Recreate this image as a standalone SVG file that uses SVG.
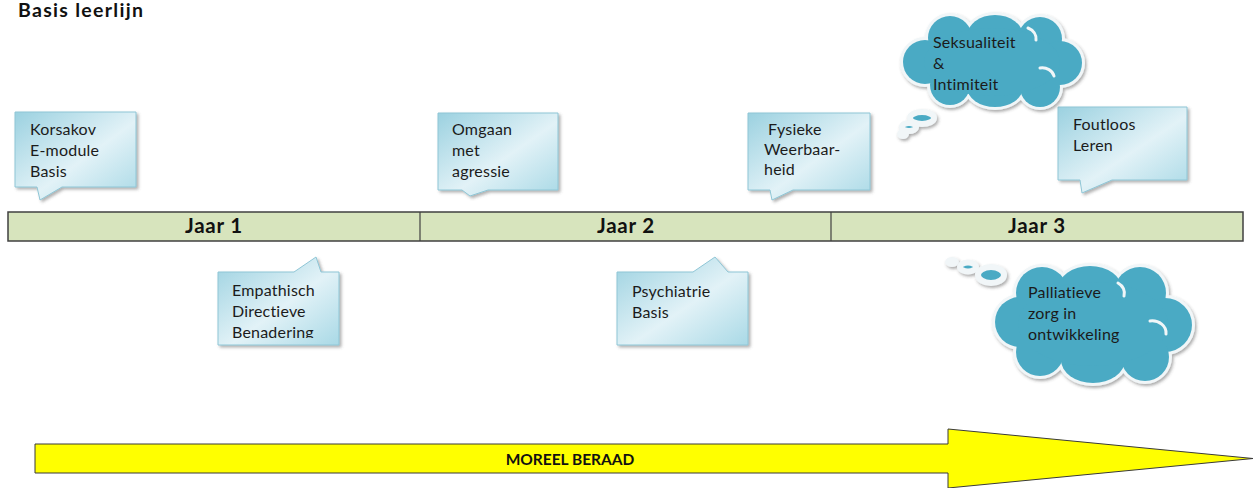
<svg xmlns="http://www.w3.org/2000/svg" width="1254" height="488" viewBox="0 0 1254 488">
<style>
.t{font-family:Lato,"Open Sans","Liberation Sans",sans-serif;font-size:16px;fill:#1b1b1b;letter-spacing:0.2px}
.title{font-family:Lato,"Liberation Sans",sans-serif;font-size:19.5px;font-weight:bold;fill:#111;letter-spacing:1.3px}
.jaar{font-family:Lato,"Liberation Sans",sans-serif;font-size:20.5px;font-weight:bold;fill:#111;text-anchor:middle;letter-spacing:0.8px}
.call{fill:url(#cg);stroke:#8fc6d6;stroke-width:1;filter:url(#sh)}
.cloudB{fill:#4aaac4;stroke:#f1f6f8;stroke-width:6}
.cloudF{fill:#4aaac4}
.crease{fill:none;stroke:#f1f6f8;stroke-width:3;stroke-linecap:round}
.arrow{fill:#ffff00;stroke:#3a3a3a;stroke-width:1}
.ab{font-family:Lato,"Liberation Sans",sans-serif;font-size:15.5px;font-weight:bold;fill:#111;text-anchor:middle}
</style>
<defs>
<linearGradient id="cg" x1="0" y1="0" x2="1" y2="1">
<stop offset="0" stop-color="#9bd1e0"/>
<stop offset="0.55" stop-color="#e2f2f7"/>
<stop offset="1" stop-color="#a9d9e6"/>
</linearGradient>
<filter id="sh" x="-10%" y="-10%" width="130%" height="130%">
<feDropShadow dx="2" dy="2" stdDeviation="1.5" flood-color="#555" flood-opacity="0.45"/>
</filter>
<filter id="csh" x="-10%" y="-10%" width="130%" height="130%">
<feDropShadow dx="1.5" dy="2" stdDeviation="1.5" flood-color="#444" flood-opacity="0.45"/>
</filter>
<clipPath id="clipE"><rect x="210" y="250" width="140" height="88"/></clipPath>
</defs>

<text class="title" x="18" y="17">Basis leerlijn</text>

<g id="timeline">
<rect x="8" y="212" width="1235" height="29" fill="#d7e4bd" stroke="#404040" stroke-width="1.5"/>
<line x1="420" y1="212" x2="420" y2="241" stroke="#404040" stroke-width="1.2"/>
<line x1="831" y1="212" x2="831" y2="241" stroke="#404040" stroke-width="1.2"/>
<text class="jaar" x="214" y="233">Jaar 1</text>
<text class="jaar" x="626" y="233">Jaar 2</text>
<text class="jaar" x="1037" y="233">Jaar 3</text>
</g>

<g id="korsakov">
<path class="call" d="M15,112 H136 V187 H62 L40,200 L37,187 H15 Z"/>
<text class="t" x="30" y="135">Korsakov</text>
<text class="t" x="30" y="156">E-module</text>
<text class="t" x="30" y="177">Basis</text>
</g>

<g id="empathisch">
<path class="call" d="M218,272 H294 L316,257 L321,272 H339 V345 H218 Z"/>
<g clip-path="url(#clipE)">
<text class="t" x="232" y="296">Empathisch</text>
<text class="t" x="232" y="317">Directieve</text>
<text class="t" x="232" y="338">Benadering</text>
</g>
</g>

<g id="omgaan">
<path class="call" d="M438,113 H558 V190 H488 L470,196 L462,190 H438 Z"/>
<text class="t" x="452" y="135">Omgaan</text>
<text class="t" x="452" y="156">met</text>
<text class="t" x="452" y="177">agressie</text>
</g>

<g id="fysieke">
<path class="call" d="M748,113 H870 V190 H793 L772,200 L770,190 H748 Z"/>
<text class="t" x="768" y="135">Fysieke</text>
<text class="t" x="764" y="155">Weerbaar-</text>
<text class="t" x="764" y="175">heid</text>
</g>

<g id="psychiatrie">
<path class="call" d="M617,272 H693 L715,257 L728,272 H748 V345 H617 Z"/>
<text class="t" x="632" y="297">Psychiatrie</text>
<text class="t" x="632" y="318">Basis</text>
</g>

<g id="foutloos">
<path class="call" d="M1058,107 H1187 V180 H1112 L1082,193 L1080,180 H1058 Z"/>
<text class="t" x="1073" y="130">Foutloos</text>
<text class="t" x="1073" y="151">Leren</text>
</g>

<g id="seksualiteit">
<g filter="url(#csh)">
<g class="cloudB">
<circle cx="925" cy="62" r="22"/>
<circle cx="950" cy="38" r="22"/>
<ellipse cx="995" cy="36" rx="28" ry="21"/>
<circle cx="1040" cy="39" r="22"/>
<circle cx="1060" cy="63" r="22"/>
<circle cx="1040" cy="87" r="20"/>
<ellipse cx="995" cy="87" rx="28" ry="20"/>
<circle cx="950" cy="85" r="20"/>
<ellipse cx="922" cy="118" rx="12" ry="6"/>
<ellipse cx="909" cy="127" rx="7" ry="4"/>
<ellipse cx="903" cy="134" rx="3" ry="2"/>
</g>
</g>
<g class="cloudF">
<circle cx="925" cy="62" r="22"/>
<circle cx="950" cy="38" r="22"/>
<ellipse cx="995" cy="36" rx="28" ry="21"/>
<circle cx="1040" cy="39" r="22"/>
<circle cx="1060" cy="63" r="22"/>
<circle cx="1040" cy="87" r="20"/>
<ellipse cx="995" cy="87" rx="28" ry="20"/>
<circle cx="950" cy="85" r="20"/>
<ellipse cx="992" cy="62" rx="68" ry="34"/>
</g>
<path class="crease" d="M1040,68 A12,10 0 0 1 1054,76"/>
<path class="crease" d="M1028,28 A14,12 0 0 1 1036,40"/>
<text class="t" x="933" y="48">Seksualiteit</text>
<text class="t" x="933" y="69">&amp;</text>
<text class="t" x="933" y="90">Intimiteit</text>
</g>

<g id="palliatieve">
<g filter="url(#csh)">
<g class="cloudB">
<circle cx="1020" cy="322" r="25"/>
<circle cx="1042" cy="293" r="26"/>
<ellipse cx="1090" cy="289" rx="32" ry="23"/>
<circle cx="1140" cy="293" r="26"/>
<circle cx="1165" cy="325" r="27"/>
<circle cx="1145" cy="357" r="24"/>
<ellipse cx="1093" cy="360" rx="32" ry="23"/>
<circle cx="1040" cy="352" r="24"/>
<ellipse cx="991" cy="275" rx="13" ry="8"/>
<ellipse cx="968" cy="267" rx="8" ry="4.5"/>
<ellipse cx="952" cy="262" rx="4" ry="2"/>
</g>
</g>
<g class="cloudF">
<circle cx="1020" cy="322" r="25"/>
<circle cx="1042" cy="293" r="26"/>
<ellipse cx="1090" cy="289" rx="32" ry="23"/>
<circle cx="1140" cy="293" r="26"/>
<circle cx="1165" cy="325" r="27"/>
<circle cx="1145" cy="357" r="24"/>
<ellipse cx="1093" cy="360" rx="32" ry="23"/>
<circle cx="1040" cy="352" r="24"/>
<ellipse cx="1093" cy="324" rx="75" ry="42"/>
</g>
<path class="crease" d="M1150,321 A14,12 0 0 1 1166,334"/>
<path class="crease" d="M1118,283 A14,12 0 0 1 1124,296"/>
<text class="t" x="1028" y="298">Palliatieve</text>
<text class="t" x="1028" y="319">zorg in</text>
<text class="t" x="1028" y="340">ontwikkeling</text>
</g>

<g id="moreel-beraad">
<polygon class="arrow" points="35,444 948,444 948,429 1253,458.5 948,488 948,473 35,473"/>
<text class="ab" x="570" y="465">MOREEL BERAAD</text>
</g>
</svg>
